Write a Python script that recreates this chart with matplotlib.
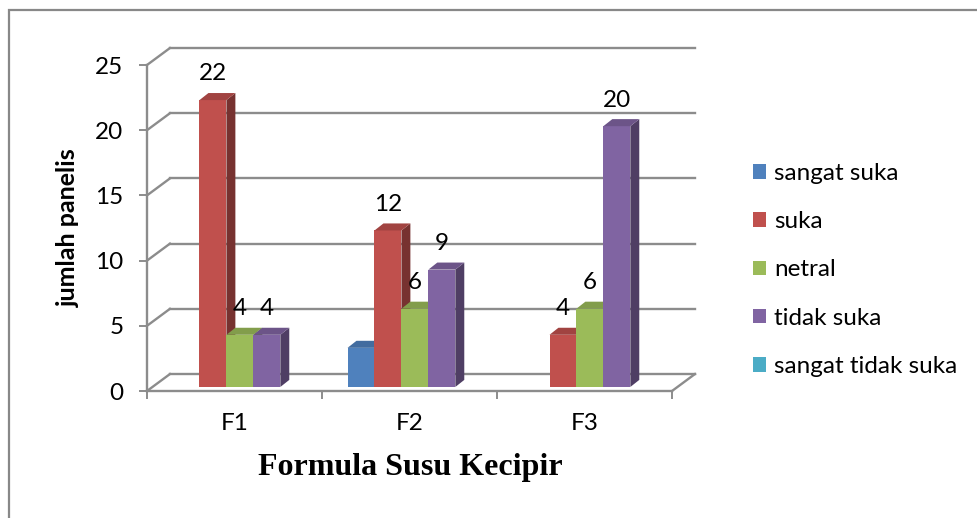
import matplotlib.pyplot as plt
from matplotlib.patches import Polygon, Patch, Rectangle
from matplotlib.colors import to_rgb
import numpy as np

# data: number of panelists per preference, for each milk formula
categories = ['F1', 'F2', 'F3']
series_names = ['sangat suka', 'suka', 'netral', 'tidak suka', 'sangat tidak suka']
sangat_suka = [0, 3, 0]
suka = [22, 12, 4]
netral = [4, 6, 6]
tidak_suka = [4, 9, 20]
sangat_tidak_suka = [0, 0, 0]
series = [sangat_suka, suka, netral, tidak_suka, sangat_tidak_suka]
show_label = [False, True, True, True, False]
colors = ['#4F81BD', '#C0504D', '#9BBB59', '#8064A2', '#4BACC6']
yticks = [0, 5, 10, 15, 20, 25]

W, H = 978, 518
GRID = '#8c8c8c'
FONT = 'Lato'
FS = 17.5

# oblique "3d" offsets in data units
back_dx, back_dy = 0.131, 1.30      # back wall
face_dx, face_dy = 0.031, 0.31      # bar front faces sit a bit behind the front plane
bar_dx, bar_dy = 0.051, 0.54        # bar depth
bar_w = 0.154


def shade(c, f):
    return tuple(np.array(to_rgb(c)) * f)


fig = plt.figure(figsize=(W / 100, H / 100), dpi=100)
fig.patch.set_facecolor('white')

# outer chart border
fig.patches.append(Rectangle((9 / W, -0.5), 2, 1 - 10 / H + 0.5, transform=fig.transFigure,
                             fill=False, edgecolor='#888888', lw=1.6))

ax = fig.add_axes([147 / W, (H - 391) / H, (672 - 147) / W, (391 - 65) / H])
ax.set_xlim(0, len(categories))
ax.set_ylim(0, 25)
ax.patch.set_alpha(0)
for s in ['top', 'right']:
    ax.spines[s].set_visible(False)
for s in ['left', 'bottom']:
    ax.spines[s].set_color(GRID)
    ax.spines[s].set_linewidth(1.7)

nx = len(categories)
# walls and floor
for v in yticks:
    ax.plot([0, back_dx], [v, v + back_dy], color=GRID, lw=1.7, clip_on=False, zorder=1)
    ax.plot([back_dx, nx + back_dx], [v + back_dy, v + back_dy], color=GRID, lw=1.7,
            clip_on=False, zorder=1)
ax.plot([nx, nx + back_dx], [0, back_dy], color=GRID, lw=1.7, clip_on=False, zorder=1)

# bars
ns = len(series)
for i in range(nx):
    for j in range(ns):
        v = series[j][i]
        if v <= 0:
            continue
        c = colors[j]
        x0 = i + 0.5 - ns / 2 * bar_w + j * bar_w + face_dx
        y0 = face_dy
        ax.bar(x0, v, width=bar_w, bottom=y0, align='edge', color=c, lw=0,
               clip_on=False, zorder=3)
        side = [(x0 + bar_w, y0), (x0 + bar_w + bar_dx, y0 + bar_dy),
                (x0 + bar_w + bar_dx, y0 + v + bar_dy), (x0 + bar_w, y0 + v)]
        top = [(x0, y0 + v), (x0 + bar_dx, y0 + v + bar_dy),
               (x0 + bar_w + bar_dx, y0 + v + bar_dy), (x0 + bar_w, y0 + v)]
        ax.add_patch(Polygon(side, closed=True, fc=shade(c, 0.62), lw=0, clip_on=False, zorder=3))
        ax.add_patch(Polygon(top, closed=True, fc=shade(c, 0.84), lw=0, clip_on=False, zorder=3))
        if show_label[j]:
            ax.text(x0 + bar_w / 2, y0 + v + 2.0, str(v), ha='center', va='center',
                    fontsize=FS, family=FONT, color='black', zorder=5)

# axes ticks
ax.set_yticks(yticks)
ax.set_yticklabels([str(t) for t in yticks])
ax.tick_params(axis='y', length=6, width=1.4, color=GRID, pad=11, labelsize=FS,
               labelfontfamily=FONT)
ax.set_xticks(range(nx + 1))
ax.set_xticklabels([])
ax.set_xticks([i + 0.5 for i in range(nx)], minor=True)
ax.set_xticklabels(categories, minor=True)
ax.tick_params(axis='x', which='major', length=5.5, width=1.4, color=GRID)
ax.tick_params(axis='x', which='minor', length=0, pad=16, labelsize=FS,
               labelfontfamily=FONT)

fig.text(68 / W, 1 - 228 / H, 'jumlah panelis', rotation=90, ha='center', va='center',
         fontsize=18, fontweight='bold', family=FONT)
fig.text(410 / W, 1 - 468 / H, 'Formula Susu Kecipir', ha='center', va='center',
         fontsize=23, fontweight='bold', family='Liberation Serif')

handles = [Patch(facecolor=c, edgecolor='none') for c in colors]
fig.legend(handles, series_names, loc='upper left', bbox_to_anchor=(753 / W, 1 - 163 / H),
           frameon=False, prop={'family': FONT, 'size': FS},
           handlelength=0.55, handleheight=0.55, handletextpad=0.33,
           labelspacing=1.12, borderpad=0, borderaxespad=0)

fig.savefig('out.png', dpi=100)
